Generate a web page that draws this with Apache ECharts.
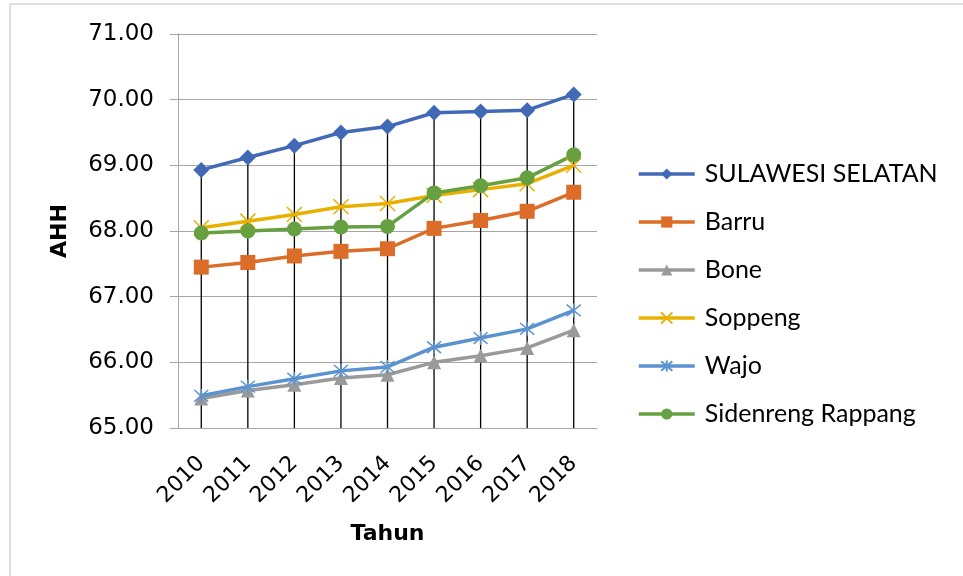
<!DOCTYPE html>
<html><head><meta charset="utf-8">
<script src="https://cdn.jsdelivr.net/npm/echarts@6/dist/echarts.min.js"></script>
<style>html,body{margin:0;padding:0;background:#fff}#c{width:963px;height:576px}</style>
</head><body><div id="c"></div>
<script>
var years = ['2010','2011','2012','2013','2014','2015','2016','2017','2018'];
var sulsel = [68.93, 69.12, 69.30, 69.50, 69.59, 69.80, 69.82, 69.84, 70.08];
var barru = [67.45, 67.52, 67.62, 67.69, 67.73, 68.04, 68.16, 68.30, 68.59];
var bone = [65.45, 65.57, 65.66, 65.76, 65.81, 66.00, 66.10, 66.22, 66.49];
var soppeng = [68.05, 68.15, 68.25, 68.37, 68.42, 68.54, 68.63, 68.72, 69.00];
var wajo = [65.49, 65.63, 65.75, 65.87, 65.93, 66.23, 66.37, 66.51, 66.79];
var sidrap = [67.97, 68.00, 68.03, 68.06, 68.07, 68.58, 68.69, 68.81, 69.16];
var yTicks = [65, 66, 67, 68, 69, 70, 71];

var chart = echarts.init(document.getElementById('c'));
var xPath = 'path://M0,0L10,10M10,0L0,10';
var starPath = 'path://M0,0L10,10M10,0L0,10M5,-1L5,11';
function ln(name, data, color, symbol, size, extra) {
  var s = {
    name: name, type: 'line', data: data, symbol: symbol, symbolSize: size,
    lineStyle: {color: color, width: 3.5}, itemStyle: {color: color},
    z: 5, animation: false
  };
  if (extra) { for (var k in extra) s[k] = extra[k]; }
  return s;
}
var option = {
  animation: false,
  graphic: [{type: 'rect', shape: {x: 10, y: 4, width: 1000, height: 620}, style: {fill: 'none', stroke: '#bfbfbf', lineWidth: 1}, z: -1}],
  grid: {left: 178, right: 366, top: 34, bottom: 148},
  legend: {
    orient: 'vertical', left: 632, top: 155, itemWidth: 56, itemHeight: 14, itemGap: 20,
    data: ['SULAWESI SELATAN','Barru','Bone','Soppeng','Wajo','Sidenreng Rappang'],
    lineStyle: {width: 3.5},
    textStyle: {fontFamily: 'Lato', fontSize: 25, color: '#000', lineHeight: 28, padding: [0,0,0,5]}
  },
  xAxis: {
    type: 'category', data: years, boundaryGap: true,
    name: 'Tahun', nameLocation: 'middle', nameGap: 95,
    nameTextStyle: {fontFamily: 'DejaVu Sans', fontWeight: 'bold', fontSize: 22, color: '#000'},
    axisLine: {lineStyle: {color: '#a6a6a6'}}, axisTick: {show: false},
    axisLabel: {rotate: 45, fontFamily: 'DejaVu Sans', fontSize: 22, color: '#000', margin: 32}
  },
  yAxis: {
    type: 'value', min: 65, max: 71, interval: 1,
    name: 'AHH', nameLocation: 'middle', nameGap: 107,
    nameTextStyle: {fontFamily: 'DejaVu Sans', fontWeight: 'bold', fontSize: 22, color: '#000'},
    axisLine: {show: true, lineStyle: {color: '#a6a6a6'}},
    axisTick: {show: true, length: 8, lineStyle: {color: '#a6a6a6'}},
    splitLine: {lineStyle: {color: '#a6a6a6'}},
    axisLabel: {fontFamily: 'DejaVu Sans', fontSize: 23, color: '#000', margin: 24,
      formatter: function (v) { return v.toFixed(2); }}
  },
  series: [
    {name: 'drop', type: 'bar', data: sulsel, barWidth: 1.3, itemStyle: {color: '#000'}, z: 2, silent: true},
    ln('SULAWESI SELATAN', sulsel, '#4169b6', 'diamond', 16),
    ln('Barru', barru, '#db6d28', 'rect', 15),
    ln('Bone', bone, '#9a9a9a', 'triangle', 14),
    ln('Soppeng', soppeng, '#e8b000', xPath, 15, {itemStyle: {color: 'none', borderColor: '#e8b000', borderWidth: 1.5}}),
    ln('Wajo', wajo, '#5a93cf', starPath, 14, {itemStyle: {color: 'none', borderColor: '#5a93cf', borderWidth: 1.5}}),
    ln('Sidenreng Rappang', sidrap, '#66a040', 'circle', 15)
  ]
};
chart.setOption(option);
</script>
</body></html>
